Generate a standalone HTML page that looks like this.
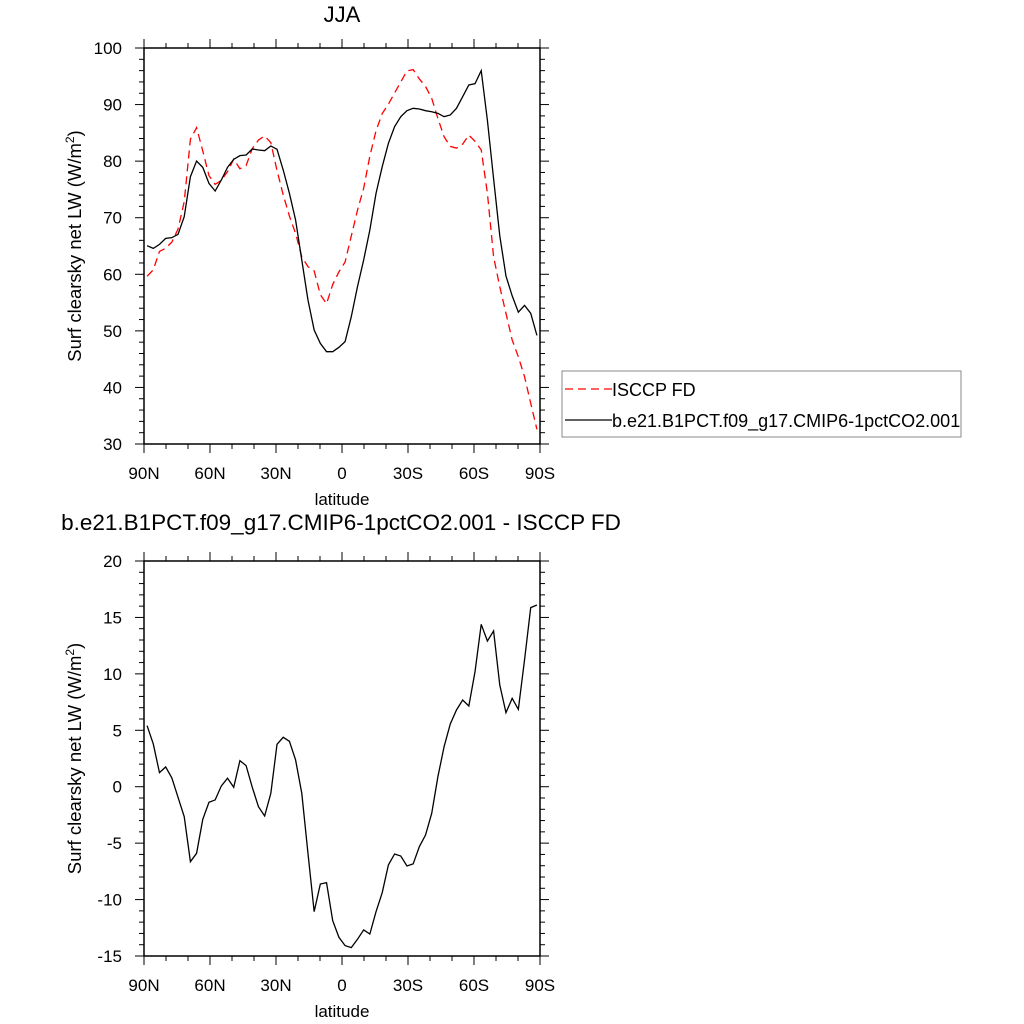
<!DOCTYPE html>
<html><head><meta charset="utf-8"><style>
html,body{margin:0;padding:0;background:#fff;}
svg{display:block;font-family:"Liberation Sans",sans-serif;}
</style></head><body>
<svg id="chart" width="1024" height="1024" viewBox="0 0 1024 1024" xmlns="http://www.w3.org/2000/svg"></svg>
<script>
const lats = [];
const latStart = 88.59375, latStep = 2.8125, nLat = 64;
for (let i = 0; i < nLat; i++) lats.push(latStart - i * latStep);
const modelValues = [65.06,64.58,65.29,66.35,66.47,67.06,70.18,77.25,80.02,78.9,76.07,74.72,76.67,78.9,80.32,80.97,81.09,82.15,81.97,81.85,82.68,82.09,78.43,74.31,69.59,62.52,55.45,50.15,47.79,46.32,46.32,47.09,48.09,52.5,57.8,62.52,67.83,74.31,79.02,83.15,86.09,87.86,88.92,89.34,89.22,88.92,88.74,88.45,87.86,88.16,89.34,91.4,93.46,93.7,96.0,87.2,76.9,66.8,59.7,56.2,53.3,54.5,53.1,49.2];
const obsValues = [59.65,60.79,64.04,64.6,65.69,68.0,72.83,83.89,85.92,81.79,77.45,75.89,76.6,78.15,80.37,78.66,79.22,82.2,83.74,84.44,83.26,78.33,74.05,70.29,67.22,63.1,61.35,60.6,56.4,54.8,58.19,60.43,62.17,66.76,71.32,75.21,80.88,85.38,88.41,90.08,92.05,94.0,95.94,96.18,94.53,93.2,91.1,87.56,84.31,82.6,82.3,83.0,84.6,83.5,82.0,74.3,63.1,57.8,53.1,48.4,45.4,41.9,37.2,32.6];
const diffValues = [5.41,3.79,1.25,1.75,0.78,-0.94,-2.65,-6.64,-5.9,-2.89,-1.38,-1.17,0.07,0.75,-0.05,2.31,1.87,-0.05,-1.77,-2.59,-0.58,3.76,4.38,4.02,2.37,-0.58,-5.9,-11.07,-8.62,-8.5,-11.87,-13.34,-14.08,-14.26,-13.52,-12.69,-13.05,-11.07,-9.39,-6.93,-5.96,-6.14,-7.02,-6.84,-5.31,-4.28,-2.36,0.89,3.55,5.56,6.8,7.68,7.15,10.2,14.39,12.91,13.8,9.01,6.56,7.83,6.86,11.23,15.87,16.1];
const xTickLabels = ["90N","60N","30N","0","30S","60S","90S"];
const xTickVals = [90,60,30,0,-30,-60,-90];
const topYTicks = [30,40,50,60,70,80,90,100];
const botYTicks = [-15,-10,-5,0,5,10,15,20];

const NS = "http://www.w3.org/2000/svg";
const svg = document.getElementById("chart");
function mk(tag, attrs, parent) {
  const e = document.createElementNS(NS, tag);
  for (const k in attrs) e.setAttribute(k, attrs[k]);
  (parent || svg).appendChild(e);
  return e;
}
const X0 = 144, X1 = 540;
function xScale(lat) { return X0 + (90 - lat) / 180 * (X1 - X0); }

function panel(name, top, bottom, ymin, ymax, yTicks, minorStep) {
  const g = mk("g", {});
  
  
  const yScale = v => bottom - (v - ymin) / (ymax - ymin) * (bottom - top);
  const fr = mk("rect", {x:X0, y:top, width:X1-X0, height:bottom-top, fill:"none", stroke:"#000", "stroke-width":1.5}, g);
  
  
  for (let lat = -90; lat <= 90; lat += 10) {
    const x = xScale(lat);
    const major = lat % 30 === 0;
    const L = major ? 9 : 5;
    mk("line", {x1:x, y1:bottom, x2:x, y2:bottom+L, stroke:"#000", "stroke-width":1}, g);
    mk("line", {x1:x, y1:top, x2:x, y2:top-L, stroke:"#000", "stroke-width":1}, g);
  }
  xTickVals.forEach((v, i) => {
    const t = mk("text", {x:xScale(v), y:bottom+35, "font-size":17, "text-anchor":"middle"}, g);
    t.textContent = xTickLabels[i];
    
    
  });
  for (let v = ymin; v <= ymax + 1e-9; v += minorStep) {
    const y = yScale(v);
    const major = yTicks.some(t => Math.abs(t - v) < 1e-6);
    const L = major ? 9 : 5;
    mk("line", {x1:X0, y1:y, x2:X0-L, y2:y, stroke:"#000", "stroke-width":1}, g);
    mk("line", {x1:X1, y1:y, x2:X1+L, y2:y, stroke:"#000", "stroke-width":1}, g);
  }
  yTicks.forEach(v => {
    const t = mk("text", {x:122, y:yScale(v)+6, "font-size":17, "text-anchor":"end"}, g);
    t.textContent = String(v);
    
    
  });
  const xt = mk("text", {x:(X0+X1)/2, y:bottom+61, "font-size":17, "text-anchor":"middle"}, g);
  xt.textContent = "latitude";
  
  
  const cy = (top+bottom)/2;
  const yt = mk("text", {x:81, y:cy, "font-size":18.5, "text-anchor":"middle", transform:`rotate(-90 81 ${cy})`}, g);
  yt.innerHTML = 'Surf clearsky net LW (W/m<tspan dy="-7" font-size="12">2</tspan><tspan dy="7">)</tspan>';
  
  
  return {g, yScale};
}
function line(g, vals, yScale, color, dash, name) {
  const d = vals.map((v, i) => (i ? "L" : "M") + xScale(lats[i]).toFixed(2) + "," + yScale(v).toFixed(2)).join(" ");
  const p = mk("path", {d, fill:"none", stroke:color, "stroke-width":1.3}, g);
  if (dash) p.setAttribute("stroke-dasharray", dash);
  
  
}

const t1 = mk("text", {x:342, y:22, "font-size":22, "text-anchor":"middle"});
t1.textContent = "JJA";


const p1 = panel("top-panel", 48, 444, 30, 100, topYTicks, 2);
line(p1.g, obsValues, p1.yScale, "#ff0000", "8,5", "isccp-fd-line");
line(p1.g, modelValues, p1.yScale, "#000", null, "model-line");

const t2 = mk("text", {x:341, y:530, "font-size":22.5, "text-anchor":"middle"});
t2.textContent = "b.e21.B1PCT.f09_g17.CMIP6-1pctCO2.001 - ISCCP FD";


const p2 = panel("bottom-panel", 561, 956, -15, 20, botYTicks, 1);
line(p2.g, diffValues, p2.yScale, "#000", null, "difference-line");

const lg = mk("g", {});


mk("rect", {x:562, y:371, width:399, height:66, fill:"#fff", stroke:"#888", "stroke-width":1}, lg);
const l1 = mk("line", {x1:565, y1:389, x2:612, y2:389, stroke:"#ff0000", "stroke-width":1.3, "stroke-dasharray":"8,5"}, lg);


const lt1 = mk("text", {x:612, y:396, "font-size":18}, lg);
lt1.textContent = "ISCCP FD";


const l2 = mk("line", {x1:565, y1:420, x2:612, y2:420, stroke:"#000", "stroke-width":1.3}, lg);


const lt2 = mk("text", {x:612, y:427, "font-size":18}, lg);
lt2.textContent = "b.e21.B1PCT.f09_g17.CMIP6-1pctCO2.001";


</script>
</body></html>
